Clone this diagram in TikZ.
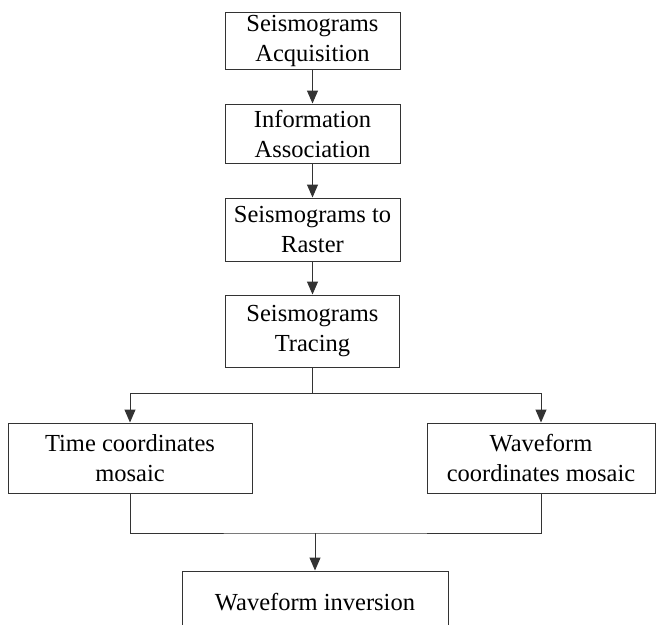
\documentclass[tikz,border=0pt]{standalone}
\usepackage{fontspec}
\setmainfont{Liberation Serif}
\usetikzlibrary{arrows.meta, positioning}

\tikzset{
  procbox/.style={draw=black!80, line width=1pt, align=center, inner sep=0pt,
    font=\fontsize{24.5}{30}\selectfont},
  flow/.style={draw=black!80, line width=1pt, -{Triangle[length=13pt, width=11pt]}},
  link/.style={draw=black!80, line width=1pt}
}

\begin{document}
\begin{tikzpicture}[x=1pt, y=-1pt]
  \path[use as bounding box, clip] (0,0) rectangle (656,624);
  % Main chain
  \node[procbox, minimum width=175pt, minimum height=57pt] (acq) at (312.5,40.5) {Seismograms\\Acquisition};
  \node[procbox, minimum width=175pt, minimum height=59pt] (info) at (312.5,133.5) {Information\\Association};
  \node[procbox, minimum width=175pt, minimum height=63pt] (raster) at (312.5,229.5) {Seismograms to\\Raster};
  \node[procbox, minimum width=174pt, minimum height=72pt] (trace) at (312.5,331) {Seismograms\\Tracing};
  % Two mosaics
  \node[procbox, minimum width=244pt, minimum height=70pt] (time) at (130,458) {Time coordinates\\mosaic};
  \node[procbox, minimum width=228pt, minimum height=70pt] (wave) at (541,458) {Waveform\\coordinates mosaic};
  % Final step
  \node[procbox, minimum width=266pt, minimum height=62pt] (inv) at (315,602) {Waveform inversion};
  % Connectors
  \draw[flow] (acq) -- (info);
  \draw[flow] (info) -- (raster);
  \draw[flow] (raster) -- (trace);
  \coordinate (split) at (312.5,393);
  \draw[link] (trace.south) -- (split);
  \draw[flow] (split) -| (time.north);
  \draw[flow] (split) -| (wave.north);
  \coordinate (merge) at (315,533);
  \draw[link] (time.south) |- (merge) -| (wave.south);
  \draw[flow] (merge) -- (inv.north);
\end{tikzpicture}
\end{document}
